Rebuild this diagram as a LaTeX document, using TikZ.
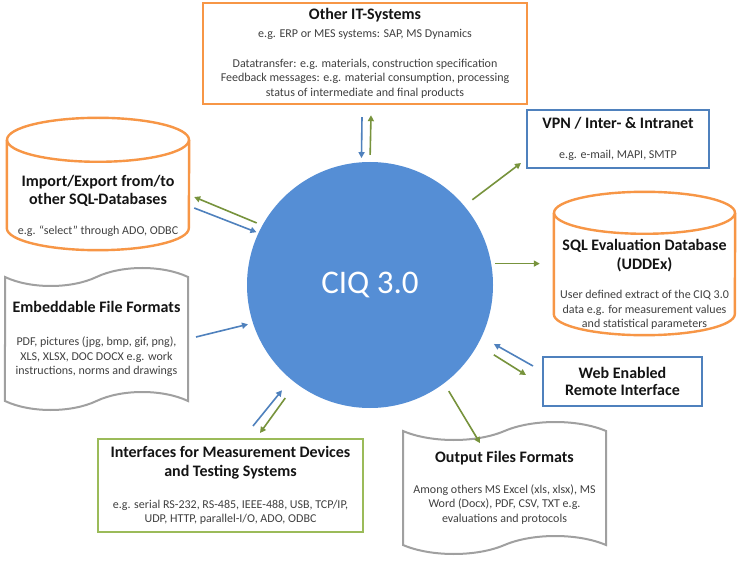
\documentclass[tikz,border=0pt]{standalone}
\usepackage{fontspec}
\setmainfont{Carlito}
\usetikzlibrary{shapes.symbols,arrows.meta,calc}
\definecolor{ciqblue}{RGB}{85,142,213}
\definecolor{sqlorange}{RGB}{247,150,70}
\definecolor{netblue}{RGB}{79,129,189}
\definecolor{devgreen}{RGB}{155,187,89}
\definecolor{arrowgreen}{RGB}{119,147,60}
\definecolor{arrowblue}{RGB}{79,129,189}
\definecolor{scrollgray}{RGB}{160,160,160}
\definecolor{bodygray}{RGB}{64,64,64}
\definecolor{titleblack}{RGB}{20,20,20}
\newcommand{\boxtitle}{\fontsize{16}{19.5}\selectfont\bfseries\color{titleblack}}
\newcommand{\boxbody}{\fontsize{12}{14.6}\selectfont}

\begin{document}
\begin{tikzpicture}[x=1pt, y=-1pt,
    infobox/.style={rectangle, line width=2pt, align=center, font=\boxbody, text=bodygray, inner sep=0pt},
    dbbody/.style={rectangle, align=center, font=\boxbody, text=bodygray, inner sep=0pt},
    dbline/.style={draw=sqlorange, line width=2.4pt},
    filescroll/.style={tape, draw=scrollgray, line width=2pt, tape bend height=18pt, align=center, font=\boxbody, text=bodygray, inner sep=0pt},
    bluearrow/.style={draw=arrowblue, line width=1.6pt, -{Triangle[length=6pt,width=6pt]}},
    greenarrow/.style={draw=arrowgreen, line width=1.6pt, -{Triangle[length=6pt,width=6pt]}}]
    \useasboundingbox[fill=white] (0,0) rectangle (745,564);

    % CIQ
    \node[circle, fill=ciqblue, minimum size=246pt, inner sep=0pt, text=white, font=\fontsize{33}{40}\selectfont] (ciq) at (370,285) {CIQ 3.0};

    % Other IT-Systems
    \node[infobox, draw=sqlorange, line width=2.4pt, minimum width=324pt, minimum height=101pt] (itsys) at (365,53.5) {
        {\boxtitle Other IT-Systems}\\[3.5pt]
        e.g. ERP or MES systems: SAP, MS Dynamics\\[14.6pt]
        Datatransfer: e.g. materials, construction specification\\
        Feedback messages: e.g. material consumption, processing\\
        status of intermediate and final products
    };

    % VPN
    \node[infobox, draw=netblue, minimum width=182pt, minimum height=58pt] (vpn) at (618,139) {
        {\boxtitle VPN / Inter- \& Intranet}\\[14.7pt]
        e.g. e-mail, MAPI, SMTP
    };

    % SQL evaluation database
    \node[dbbody, minimum width=181pt, minimum height=101pt] (sqldb) at (644.5,284.5) {
        {\boxtitle SQL Evaluation Database}\\[4pt]
        {\boxtitle (UDDEx)}\\[14.7pt]
        User defined extract of the CIQ 3.0\\
        data e.g. for measurement values\\
        and statistical parameters
    };
    \draw[dbline] ($(sqldb.north)+(0,-21)$) ellipse [x radius=90.5, y radius=21];
    \draw[dbline] ($(sqldb.north west)+(0,-21)$) -- ($(sqldb.south west)+(0,-21)$)
        arc[start angle=180, end angle=0, x radius=90.5, y radius=21] -- ($(sqldb.north east)+(0,-21)$);

    % Web interface
    \node[infobox, draw=netblue, minimum width=159pt, minimum height=49pt] (web) at (622.5,381.5) {
        {\boxtitle Web Enabled}\\[3pt]
        {\boxtitle Remote Interface}
    };

    % Output files
    \node[filescroll, minimum width=203pt, minimum height=132pt] (outfmt) at (504.5,488) {
        {\boxtitle Output Files Formats}\\[15.5pt]
        Among others MS Excel (xls, xlsx), MS\\
        Word (Docx), PDF, CSV, TXT e.g.\\
        evaluations and protocols
    };

    % Measurement devices
    \node[infobox, draw=devgreen, minimum width=265pt, minimum height=93pt] (interfaces) at (230.5,485.5) {
        {\boxtitle Interfaces for Measurement Devices}\\[4pt]
        {\boxtitle and Testing Systems}\\[17.5pt]
        e.g. serial RS-232, RS-485, IEEE-488, USB, TCP/IP,\\
        UDP, HTTP, parallel-I/O, ADO, ODBC
    };

    % Embeddable files
    \node[filescroll, minimum width=183pt, minimum height=142pt] (embed) at (96.5,339) {
        {\boxtitle Embeddable File Formats}\\[18.5pt]
        PDF, pictures (jpg, bmp, gif, png),\\
        XLS, XLSX, DOC DOCX e.g. work\\
        instructions, norms and drawings
    };

    % Import / export
    \node[dbbody, minimum width=182pt, minimum height=88pt] (importdb) at (98,206) {
        {\boxtitle Import/Export from/to}\\[3pt]
        {\boxtitle other SQL-Databases}\\[15pt]
        e.g. “select” through ADO, ODBC
    };
    \draw[dbline] ($(importdb.north)+(0,-22)$) ellipse [x radius=91, y radius=22];
    \draw[dbline] ($(importdb.north west)+(0,-22)$) -- ($(importdb.south west)+(0,-22)$)
        arc[start angle=180, end angle=0, x radius=91, y radius=22] -- ($(importdb.north east)+(0,-22)$);

    % arrows
    \draw[bluearrow, shorten >=4pt] ($(itsys.south)+(-3,12)$) -- (ciq.94);
    \draw[greenarrow, shorten <=7pt] (ciq.90) -- ($(itsys.south)+(6,10)$);
    \draw[greenarrow, shorten <=10pt] (ciq.40) -- ($(vpn.south west)+(-5,-6)$);
    \draw[greenarrow, shorten <=4pt, shorten >=14pt] (ciq.10) -- (ciq.10 -| sqldb.west);
    \draw[bluearrow, shorten >=14pt] ($(web.west)+(-9,-15.5)$) -- (ciq.-25);
    \draw[greenarrow, shorten <=19pt] (ciq.-29) -- ($(web.west)+(-16,-6.5)$);
    \draw[greenarrow, shorten <=9pt] (ciq.-53) -- ($(outfmt.north)+(-24.5,13)$);
    \draw[bluearrow, shorten >=14pt] ($(interfaces.north)+(22.5,-12)$) -- (ciq.-130);
    \draw[greenarrow, shorten <=18pt] (ciq.-127) -- ($(interfaces.north)+(29.5,-5)$);
    \draw[bluearrow, shorten >=5pt] ($(embed.east)+(7,-2)$) -- (ciq.198);
    \draw[greenarrow, shorten <=6pt] (ciq.151) -- ($(importdb.east)+(5,-9)$);
    \draw[bluearrow, shorten >=2pt] ($(importdb.east)+(5,2)$) -- (ciq.155);
\end{tikzpicture}
\end{document}
